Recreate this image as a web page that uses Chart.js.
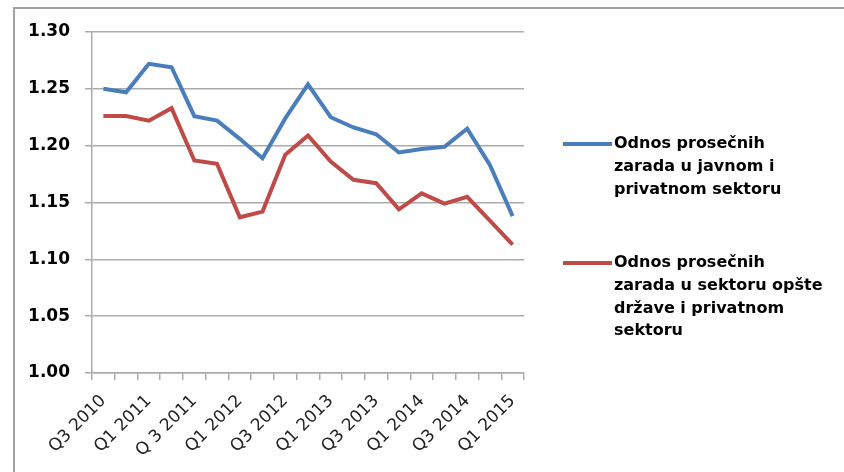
<!DOCTYPE html>
<html>
<head>
<meta charset="utf-8">
<script src="https://cdn.jsdelivr.net/npm/chart.js@4/dist/chart.umd.min.js"></script>
<style>
  html, body { margin: 0; padding: 0; background: #fff; overflow: hidden; }
  canvas { display: block; }
</style>
</head>
<body>
<canvas id="chart" width="844" height="472"></canvas>
<script>
// Quarterly categories (every other one is labelled on the axis)
const quarters = ['Q3 2010', 'Q4 2010', 'Q1 2011', 'Q2 2011', 'Q 3 2011', 'Q4 2011',
  'Q1 2012', 'Q2 2012', 'Q3 2012', 'Q4 2012', 'Q1 2013', 'Q2 2013', 'Q3 2013',
  'Q4 2013', 'Q1 2014', 'Q2 2014', 'Q3 2014', 'Q4 2014', 'Q1 2015'];

// Ratio of average wages: public vs. private sector
const publicVsPrivate = [1.250, 1.247, 1.272, 1.269, 1.226, 1.222, 1.206, 1.189, 1.224,
  1.254, 1.225, 1.216, 1.210, 1.194, 1.197, 1.199, 1.215, 1.183, 1.138];

// Ratio of average wages: general government vs. private sector
const governmentVsPrivate = [1.226, 1.226, 1.222, 1.233, 1.187, 1.184, 1.137, 1.142, 1.192,
  1.209, 1.186, 1.170, 1.167, 1.144, 1.158, 1.149, 1.155, 1.134, 1.113];

// Legend text, already broken into lines
const publicLegendLines = ['Odnos prosečnih', 'zarada u javnom i', 'privatnom sektoru'];
const governmentLegendLines = ['Odnos prosečnih', 'zarada u sektoru opšte', 'države i privatnom', 'sektoru'];

// Y axis range and step
const yMin = 1.00, yMax = 1.30, yStep = 0.05;

const BLUE = '#4a7ebb';
const RED = '#be4b48';
const GRID = '#ababab';

// Outer frame of the chart object (left and top edges)
const outerFrame = {
  id: 'outerFrame',
  beforeDraw(chart) {
    const ctx = chart.ctx;
    ctx.save();
    ctx.strokeStyle = '#a3a3a3';
    ctx.lineWidth = 2;
    ctx.beginPath();
    ctx.moveTo(14, chart.height);
    ctx.lineTo(14, 8);
    ctx.lineTo(chart.width, 8);
    ctx.stroke();
    ctx.restore();
  }
};

// Multi-line legend drawn to the right of the plot area
const sideLegend = {
  id: 'sideLegend',
  afterDraw(chart) {
    const ctx = chart.ctx;
    const area = chart.chartArea;
    const x0 = area.right + 39;
    const lineH = 22.7;
    const blocks = [
      { lines: chart.data.datasets[0].legendLines, color: chart.data.datasets[0].borderColor, y: area.top + 112 },
      { lines: chart.data.datasets[1].legendLines, color: chart.data.datasets[1].borderColor, y: area.top + 231 }
    ];
    ctx.save();
    ctx.font = 'bold 16px "DejaVu Sans"';
    ctx.textBaseline = 'middle';
    ctx.textAlign = 'left';
    ctx.fillStyle = '#000';
    blocks.forEach(b => {
      ctx.strokeStyle = b.color;
      ctx.lineWidth = 4;
      ctx.beginPath();
      ctx.moveTo(x0, b.y);
      ctx.lineTo(x0 + 49, b.y);
      ctx.stroke();
      b.lines.forEach((t, i) => ctx.fillText(t, x0 + 51, b.y + i * lineH));
    });
    ctx.restore();
  }
};

new Chart(document.getElementById('chart'), {
  type: 'line',
  data: {
    labels: quarters,
    datasets: [
      {
        label: publicLegendLines.join(' '),
        legendLines: publicLegendLines,
        data: publicVsPrivate,
        borderColor: BLUE,
        borderWidth: 4,
        pointRadius: 0,
        tension: 0,
        fill: false
      },
      {
        label: governmentLegendLines.join(' '),
        legendLines: governmentLegendLines,
        data: governmentVsPrivate,
        borderColor: RED,
        borderWidth: 4,
        pointRadius: 0,
        tension: 0,
        fill: false
      }
    ]
  },
  options: {
    responsive: false,
    devicePixelRatio: 1,
    animation: false,
    layout: { padding: { left: 0, top: 32, right: 320, bottom: 0 } },
    plugins: {
      legend: { display: false },
      tooltip: { enabled: false }
    },
    scales: {
      x: {
        type: 'category',
        offset: true,
        grid: {
          offset: true,
          drawOnChartArea: false,
          drawTicks: true,
          tickLength: 7,
          color: GRID,
          lineWidth: 1.5
        },
        border: { display: true, color: GRID, width: 1.5 },
        ticks: {
          autoSkip: false,
          maxRotation: 45,
          minRotation: 45,
          padding: 11,
          color: '#222',
          font: { family: '"DejaVu Sans"', size: 17 },
          callback: function (val, idx) {
            return idx % 2 === 0 ? this.getLabelForValue(val) : '';
          }
        },
        afterFit(scale) { scale.height = 99; }
      },
      y: {
        min: yMin,
        max: yMax,
        grid: {
          color: GRID,
          lineWidth: 1.5,
          drawTicks: true,
          tickLength: 7
        },
        border: { display: true, color: GRID, width: 1.5 },
        ticks: {
          stepSize: yStep,
          padding: 15,
          color: '#000',
          font: { family: '"DejaVu Sans"', size: 17, weight: 'bold' },
          callback: v => v.toFixed(2)
        },
        afterFit(scale) { scale.width = 92; }
      }
    }
  },
  plugins: [outerFrame, sideLegend]
});
</script>
</body>
</html>
